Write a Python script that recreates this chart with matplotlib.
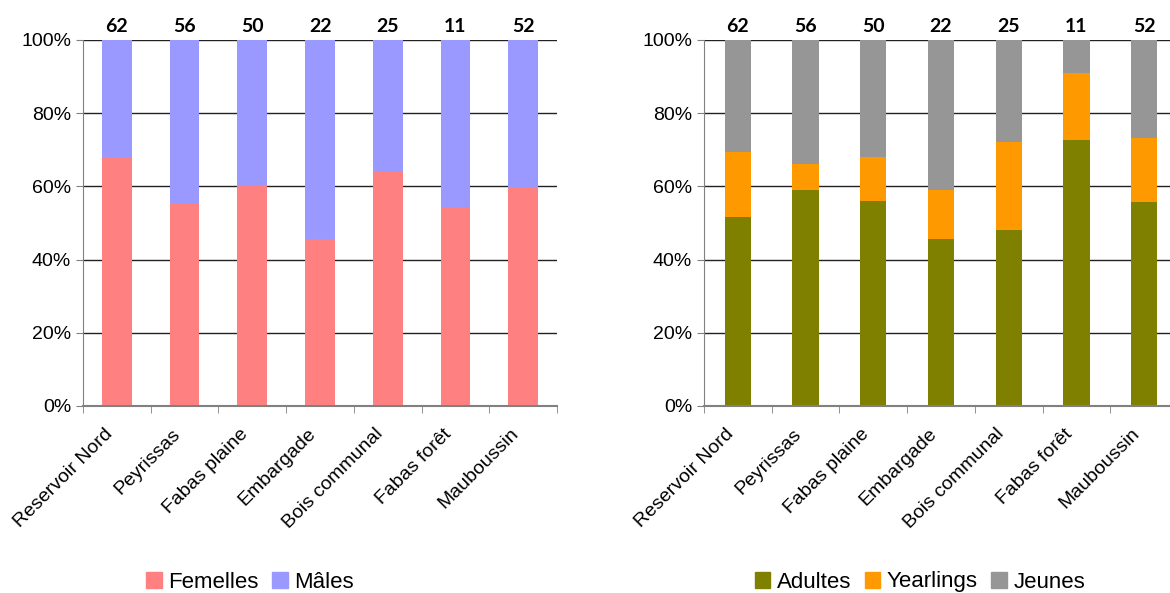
import matplotlib.pyplot as plt
import numpy as np
from matplotlib.ticker import FuncFormatter
from matplotlib.patches import Patch
from matplotlib.transforms import ScaledTranslation

plt.rcParams['font.family'] = ['Liberation Sans', 'DejaVu Sans']
plt.rcParams['font.size'] = 14

sites = ['Reservoir Nord', 'Peyrissas', 'Fabas plaine', 'Embargade',
         'Bois communal', 'Fabas forêt', 'Mauboussin']
effectifs = [62, 56, 50, 22, 25, 11, 52]

# % femelles / mâles
femelles = [67.7, 55.4, 60.0, 45.5, 64.0, 54.5, 59.6]
males = [32.3, 44.6, 40.0, 54.5, 36.0, 45.5, 40.4]

# % classes d'âge
adultes = [51.6, 58.9, 56.0, 45.5, 48.0, 72.7, 55.8]
yearlings = [17.7, 7.1, 12.0, 13.6, 24.0, 18.2, 17.3]
jeunes = [30.6, 33.9, 32.0, 40.9, 28.0, 9.1, 26.9]

fig = plt.figure(figsize=(11.7, 5.93), dpi=100)
ax1 = fig.add_axes([83 / 1170, 1 - 406 / 593, 474 / 1170, 366 / 593])
ax2 = fig.add_axes([704 / 1170, 1 - 406 / 593, 474 / 1170, 366 / 593])

x = np.arange(len(sites))
decal = ScaledTranslation(-0.13, 0, fig.dpi_scale_trans)


def style_axis(ax):
    ax.set_xlim(-0.5, len(sites) - 0.5)
    ax.set_ylim(0, 100)
    ax.set_yticks(np.arange(0, 101, 20))
    ax.yaxis.set_major_formatter(FuncFormatter(lambda v, p: '%d%%' % v))
    ax.grid(axis='y', color='#222222', linewidth=1)
    ax.set_axisbelow(True)
    for s in ['top', 'right']:
        ax.spines[s].set_visible(False)
    ax.spines['left'].set_color('#808080')
    ax.spines['bottom'].set_color('#808080')
    ax.spines['bottom'].set_linewidth(1.5)
    ax.set_xticks(x)
    ax.set_xticklabels(sites, rotation=45, ha='right', rotation_mode='anchor')
    ax.tick_params(axis='x', which='major', length=0, pad=14, labelsize=14)
    for lab in ax.get_xticklabels():
        lab.set_transform(lab.get_transform() + decal)
    ax.set_xticks(np.arange(-0.5, len(sites)), minor=True)
    ax.tick_params(axis='x', which='minor', length=5, color='#808080', direction='out')
    ax.tick_params(axis='y', length=5, color='#808080', direction='out', labelsize=14)
    for i, n in enumerate(effectifs):
        ax.text(x[i], 101.5, str(n), ha='center', va='bottom',
                fontweight='bold', fontsize=14, family=['Lato', 'DejaVu Sans'])


# graphique sexe
w1 = 0.44
ax1.bar(x, femelles, w1, color='#FF8080', label='Femelles')
ax1.bar(x, males, w1, bottom=femelles, color='#9999FF', label='Mâles')
style_axis(ax1)

# graphique âge
w2 = 0.39
bas = np.array(adultes) + np.array(yearlings)
ax2.bar(x, adultes, w2, color='#808000', label='Adultes')
ax2.bar(x, yearlings, w2, bottom=adultes, color='#FF9900', label='Yearlings')
ax2.bar(x, jeunes, w2, bottom=bas, color='#969696', label='Jeunes')
style_axis(ax2)

leg_kw = dict(loc='center', ncol=3, frameon=False, fontsize=16,
              handlelength=0.7, handleheight=0.7, handletextpad=0.3,
              columnspacing=0.6, borderaxespad=0)
fig.legend(handles=[Patch(color='#FF8080', label='Femelles'),
                    Patch(color='#9999FF', label='Mâles')],
           bbox_to_anchor=(250 / 1170, 1 - 582 / 593), **leg_kw)
fig.legend(handles=[Patch(color='#808000', label='Adultes'),
                    Patch(color='#FF9900', label='Yearlings'),
                    Patch(color='#969696', label='Jeunes')],
           bbox_to_anchor=(920 / 1170, 1 - 582 / 593), **leg_kw)

plt.savefig('out.png', dpi=100)
